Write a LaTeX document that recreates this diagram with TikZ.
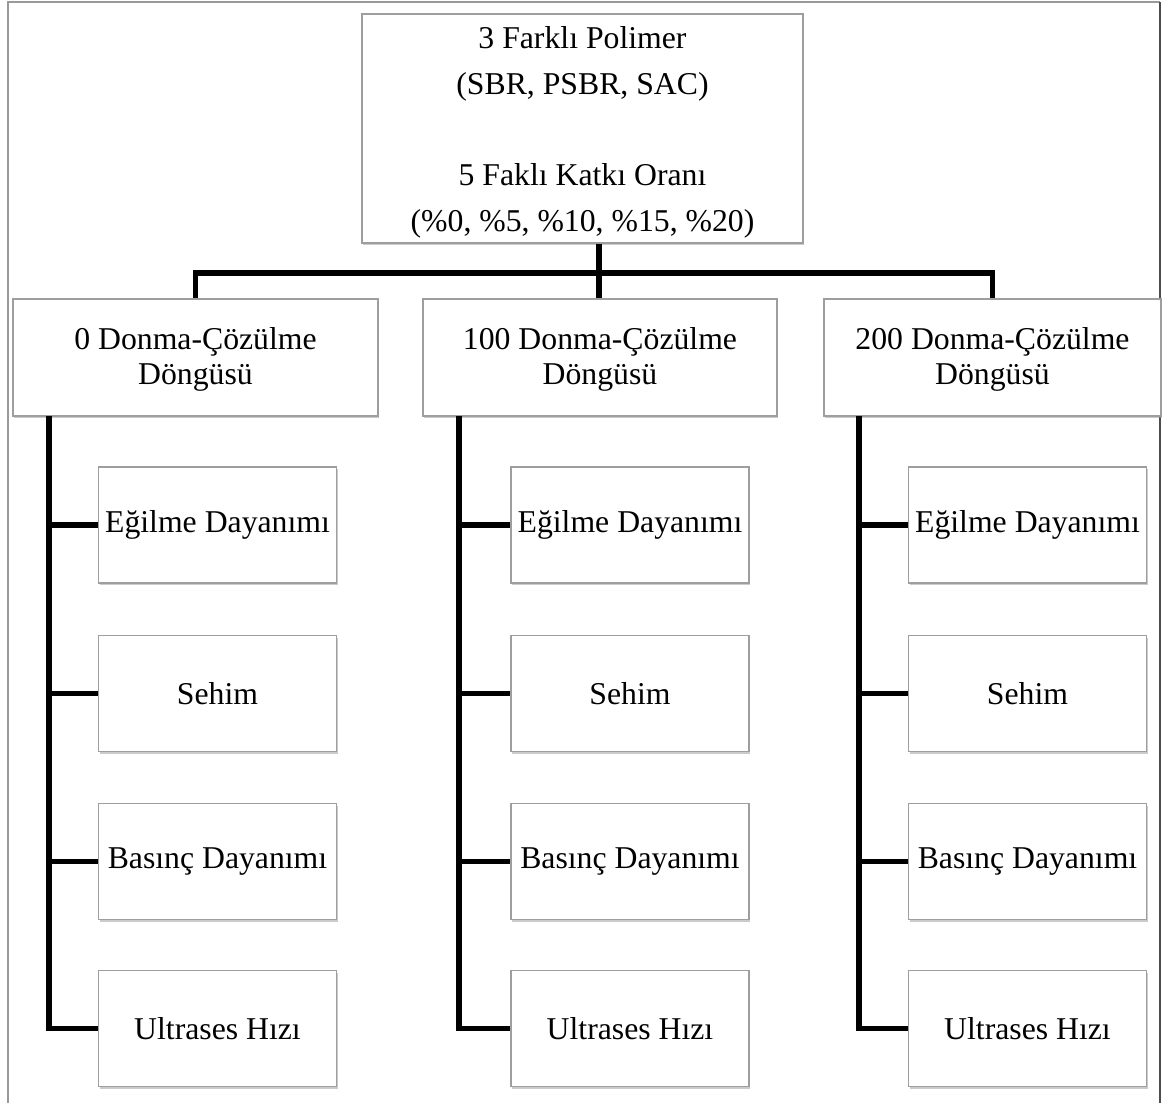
\documentclass[tikz,border=0pt]{standalone}
\usepackage{fontspec}
\setmainfont{Liberation Serif}
\usetikzlibrary{shadows,calc}
\begin{document}
\begin{tikzpicture}[x=0.75pt,y=-0.75pt,
  box/.style={draw=black!38, line width=0.8pt, fill=white, rectangle, inner sep=0pt, align=center,
    drop shadow={shadow xshift=1pt, shadow yshift=-1.6pt, fill=black!45, opacity=0.45},
    font=\fontsize{23.8}{26.25}\selectfont},
  leaf/.style={box, minimum width=238*0.75pt, minimum height=116*0.75pt},
  cyc/.style={box, minimum height=117*0.75pt},
  conn/.style={line width=4pt, black, line join=miter}
]
\useasboundingbox (0,0) rectangle (1163,1103);
% outer frame
\draw[black!40, line width=0.9pt] (8,1103) -- (8,2) -- (1160,2);
\draw[black!70, line width=0.9pt] (1160,2) -- (1160,1103);

% top box
\node[box, minimum width=441*0.75pt, minimum height=229*0.75pt, font=\fontsize{23.8}{34.3}\selectfont]
  (top) at (582.5,128.5) {\rule{0pt}{22pt}3 Farklı Polimer\\(SBR, PSBR, SAC)\\ \mbox{}\\5 Faklı Katkı Oranı\\(\%0, \%5, \%10, \%15, \%20)};

% cycle boxes
\node[cyc, minimum width=365*0.75pt] (b1) at (195.5,357.5) {\rule{0pt}{20pt}0 Donma-Çözülme\\Döngüsü};
\node[cyc, minimum width=354*0.75pt] (b2) at (600,357.5) {\rule{0pt}{20pt}100 Donma-Çözülme\\Döngüsü};
\node[cyc, minimum width=337*0.75pt] (b3) at (992.5,357.5) {\rule{0pt}{20pt}200 Donma-Çözülme\\Döngüsü};

% connectors top -> cycles
\coordinate (bar) at (599,273);
\draw[conn] (top.south -| bar) -- (bar);
\draw[conn] (b1.north) |- (bar) -| (b3.north);
\draw[conn] (bar) -- (bar |- b2.north);

% leaf boxes
\foreach \c/\x in {1/217.5, 2/630, 3/1027.5}{
  \node[leaf] (e\c) at (\x,525) {Eğilme Dayanımı};
  \node[leaf] (s\c) at (\x,693.5) {Sehim};
  \node[leaf] (p\c) at (\x,861.5) {Basınç Dayanımı};
  \node[leaf] (u\c) at (\x,1028.5) {Ultrases Hızı};
}

% trunks
\coordinate (t1) at (49,416);
\coordinate (t2) at (459,416);
\coordinate (t3) at (859,416);
\foreach \c in {1,2,3}{
  \draw[conn] (t\c) |- (u\c.west);
  \draw[conn] (t\c |- e\c.west) -- (e\c.west);
  \draw[conn] (t\c |- s\c.west) -- (s\c.west);
  \draw[conn] (t\c |- p\c.west) -- (p\c.west);
}
\end{tikzpicture}
\end{document}
